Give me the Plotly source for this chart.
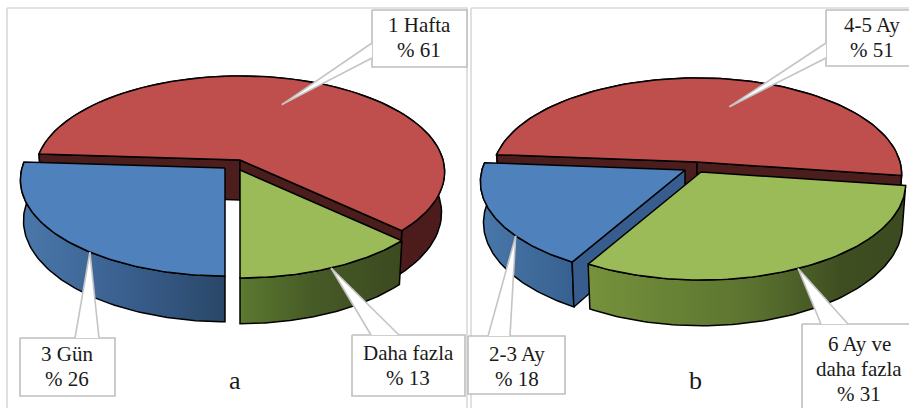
import numpy as np
import plotly.graph_objects as go

# Survey shares for the two panels, listed clockwise from the first slice
a_labels = ["1 Hafta", "Daha fazla", "3 Gün"]
a_values = [61, 13, 26]
b_labels = ["4-5 Ay", "6 Ay ve<br>daha fazla", "2-3 Ay"]
b_values = [51, 31, 18]

W, H = 909, 408
SERIF = "Liberation Serif"
RX, KY, PERSP, DEPTH, SHRINK = 203.0, 94.5, 0.125, 40.0, 0.985
LINE_GAP = 25

RED = dict(top="#be4f4c", cut="#4b1d1c", rim=[[0, "#4f1f1e"], [1, "#4b1c1b"]])
GREEN_A = dict(top="#9bbb59", cut="#3e4c20",
               rim=[[0, "#5c7a30"], [0.45, "#465a26"], [1, "#3c4a20"]])
GREEN_B = dict(top="#9bbb59", cut="#3e4c20",
               rim=[[0, "#76923c"], [0.5, "#5c7430"], [0.8, "#3f4e21"], [1, "#3c4a20"]])
BLUE_A = dict(top="#4f81bd", cut="#365d8d",
              rim=[[0, "#4a78aa"], [0.5, "#3a6090"], [1, "#2a4768"]])
BLUE_B = dict(top="#4f81bd", cut="#365d8d",
              rim=[[0, "#4a78aa"], [1, "#36608f"]])

fig = go.Figure()


def point(cx, cy, deg, r=1.0):
    """Perspective position of a disc point; angles run clockwise from the back."""
    t = np.radians(deg)
    u, v = r * np.sin(t), -r * np.cos(t)
    f = 1 / (1 - PERSP * v)
    return cx + RX * u * f, cy + KY * v * f, f


def under(cx, x, y, f):
    """The same disc point on the lower face of the pie."""
    return cx + (x - cx) * SHRINK, y + DEPTH * f


def poly(xs, ys, fill=None, gradient=None, line="black", width=1.5):
    kw = dict(fillgradient=dict(type="horizontal", colorscale=gradient)) if gradient else {}
    fig.add_trace(go.Scatter(
        x=list(xs) + [xs[0]], y=list(ys) + [ys[0]], mode="lines", fill="toself",
        fillcolor=fill, line=dict(color=line, width=width), hoverinfo="skip",
        showlegend=False, **kw))


def draw_slice(cx, cy, t0, t1, style):
    # Outer wall first, then the cut faces turned to the viewer, then the top
    angles = np.linspace(t0, t1, 90)
    pts = [point(cx, cy, t) for t in angles]
    xt = [p[0] for p in pts]
    yt = [p[1] for p in pts]
    low = [under(cx, *p) for p in pts]
    poly(xt + [p[0] for p in low[::-1]], yt + [p[1] for p in low[::-1]],
         gradient=style["rim"])
    bx, by = under(cx, cx, cy, 1.0)
    for t, normal in ((t0, t0 - 90), (t1, t1 + 90)):
        if -np.cos(np.radians(normal)) > 1e-6:
            x, y, f = point(cx, cy, t)
            x2, y2 = under(cx, x, y, f)
            poly([cx, x, x2, bx], [cy, y, y2, by], fill=style["cut"])
    poly([cx] + xt, [cy] + yt, fill=style["top"])


def callout(box, text_x, first_y, text, tip, base):
    x0, y0, x1, y1 = box
    poly([x0, x1, x1, x0], [y0, y0, y1, y1], fill="white", line="#bfbfbf", width=1.6)
    poly([base[0][0], tip[0], base[1][0]], [base[0][1], tip[1], base[1][1]],
         fill="white", line="rgba(0,0,0,0)", width=0)
    for b in base:
        fig.add_trace(go.Scatter(x=[b[0], tip[0]], y=[b[1], tip[1]], mode="lines",
                                 line=dict(color="#c4c4c4", width=1.6),
                                 hoverinfo="skip", showlegend=False))
    # One annotation per line keeps the tighter leading of the labels
    for i, part in enumerate(text.split("<br>")):
        fig.add_annotation(x=text_x, y=first_y + i * LINE_GAP, text=part, showarrow=False,
                           xanchor="center", yanchor="middle",
                           font=dict(family=SERIF, size=21, color="#1a1a1a"))


def panel(cx, cy, start, values, styles, shifts, order):
    """Draws one exploded pie and returns the centre and angle span of each slice."""
    spans = []
    t = start
    for value, (dx, dy) in zip(values, shifts):
        spans.append((cx + dx, cy + dy, t, t + value * 3.6))
        t += value * 3.6
    for i in order:
        draw_slice(*spans[i], styles[i])
    return spans


def tip_of(span, dtheta=0.0, r=1.0):
    cx, cy, t0, t1 = span
    x, y, _ = point(cx, cy, (t0 + t1) / 2 + dtheta, r)
    return x, y


# Panel frames
for x0, x1 in ((7, 467), (471, 912)):
    poly([x0, x1, x1, x0], [8, 8, 412, 412], fill="white", line="#d9d9d9", width=1.6)

# Panel a
spans = panel(240, 160, 273.6, a_values, [RED, GREEN_A, BLUE_A],
              [(0, 0), (0, 10), (-15, 8)], [0, 1, 2])
callout((372, 10, 467, 67), 419, 25, f"{a_labels[0]}<br>% {a_values[0]}",
        tip_of(spans[0], -4, 0.67), [(372, 43), (372, 58)])
callout((352, 335, 465, 396), 408, 353, f"{a_labels[1]}<br>% {a_values[1]}",
        tip_of(spans[1]), [(371, 335), (399, 335)])
callout((20, 338, 115, 396), 67, 354, f"{a_labels[2]}<br>% {a_values[2]}",
        tip_of(spans[2], -10), [(75, 338), (99, 338)])

# Panel b: the exploded blue slice sits behind the green one
spans = panel(697, 162, 274.5, b_values, [RED, GREEN_B, BLUE_B],
              [(0, 0), (4, 10), (-12, 8)], [0, 2, 1])
callout((826, 10, 912, 66), 872, 25, f"{b_labels[0]}<br>% {b_values[0]}",
        tip_of(spans[0], 9, 0.655), [(826, 43), (826, 58)])
callout((802, 324, 912, 412), 859, 344, f"{b_labels[1]}<br>% {b_values[1]}",
        tip_of(spans[1], 1), [(821, 324), (848, 324)])
callout((468, 336, 565, 394), 517, 354, f"{b_labels[2]}<br>% {b_values[2]}",
        tip_of(spans[2], -12), [(488, 336), (510, 336)])

for text, x in (("a", 235), ("b", 695)):
    fig.add_annotation(x=x, y=380, text=text, showarrow=False, xanchor="center",
                       yanchor="middle", font=dict(family=SERIF, size=26, color="#1a1a1a"))

fig.update_layout(
    width=W, height=H, autosize=False, margin=dict(l=0, r=0, t=0, b=0),
    paper_bgcolor="white", plot_bgcolor="white", showlegend=False,
    xaxis=dict(range=[0, W], visible=False, fixedrange=True),
    yaxis=dict(range=[H, 0], visible=False, fixedrange=True),
)
fig.write_html("out.html", config=dict(displayModeBar=False))
